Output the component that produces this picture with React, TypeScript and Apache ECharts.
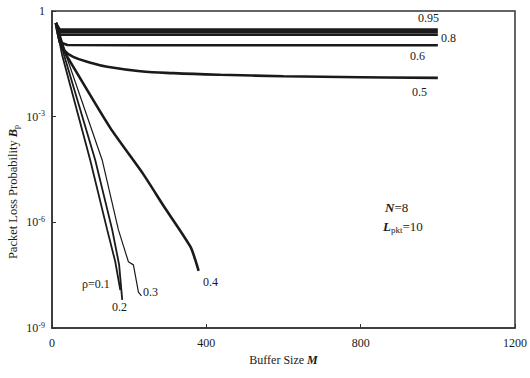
import React, { useEffect, useRef } from "react";
import * as echarts from "echarts";

// Buffer size M (x) and packet loss probability B_p (y) for each load rho
const m095 = [10, 20, 200, 400, 600, 800, 1000];
const b095 = [0.457, 0.295, 0.295, 0.295, 0.295, 0.295, 0.295];
const m090 = [10, 20, 200, 400, 600, 800, 1000];
const b090 = [0.457, 0.25, 0.25, 0.25, 0.25, 0.25, 0.25];
const m080 = [10, 20, 200, 400, 600, 800, 1000];
const b080 = [0.457, 0.212, 0.212, 0.212, 0.212, 0.212, 0.212];
const m060 = [10, 20, 40, 200, 400, 600, 800, 1000];
const b060 = [0.457, 0.13, 0.108, 0.107, 0.107, 0.107, 0.107, 0.107];
const m050 = [10, 20, 30, 55, 100, 143, 229, 315, 437, 600, 800, 1000];
const b050 = [0.457, 0.141, 0.079, 0.05, 0.034, 0.026, 0.0195, 0.0172, 0.0155, 0.0141, 0.0132, 0.0126];
const m040 = [10, 34, 44, 151, 237, 289, 359, 380];
const b040 = [0.457, 0.0646, 0.0417, 4.8e-4, 2.3e-5, 2.95e-6, 2.0e-7, 4.2e-8];
const m030 = [10, 36, 130, 172, 198, 211, 224, 232];
const b030 = [0.457, 0.0575, 5.9e-5, 6.2e-7, 7.6e-8, 6.2e-8, 1.05e-8, 8.1e-9];
const m020 = [10, 31, 112, 156, 174, 182];
const b020 = [0.457, 0.0575, 5.9e-5, 6.2e-7, 6.2e-8, 6.3e-9];
const m010 = [10, 26, 99, 143, 164, 177];
const b010 = [0.457, 0.0575, 5.9e-5, 6.2e-7, 7.6e-8, 1.2e-8];

const xTicks = [0, 400, 800, 1200];
const yTickExponents = [0, -3, -6, -9];

const FONT = "'Liberation Serif', 'Times New Roman', serif";
const INK = "#1a1a1a";

const seriesDefs = [
  { name: "0.95", m: m095, b: b095, w: 2.6, smooth: false },
  { name: "0.9", m: m090, b: b090, w: 2.6, smooth: false },
  { name: "0.8", m: m080, b: b080, w: 2.6, smooth: false },
  { name: "0.6", m: m060, b: b060, w: 2.6, smooth: false },
  { name: "0.5", m: m050, b: b050, w: 2.6, smooth: 0.4 },
  { name: "0.4", m: m040, b: b040, w: 2.6, smooth: 0.2 },
  { name: "0.3", m: m030, b: b030, w: 1.2, smooth: false },
  { name: "0.2", m: m020, b: b020, w: 1.8, smooth: false },
  { name: "0.1", m: m010, b: b010, w: 1.8, smooth: false },
];

function label(text: string, x: number, y: number, align = "left") {
  return {
    type: "text",
    x,
    y,
    style: { text, font: `12px ${FONT}`, fill: INK, align, verticalAlign: "middle" },
  };
}

export default function App() {
  const ref = useRef<HTMLDivElement>(null);
  useEffect(() => {
    if (!ref.current) return;
    const chart = echarts.init(ref.current, undefined, { renderer: "svg" });
    chart.setOption({
      animation: false,
      backgroundColor: "#ffffff",
      grid: {
        left: 52,
        right: 15,
        top: 11,
        bottom: 50,
        show: true,
        borderColor: "#333",
        borderWidth: 1.5,
        backgroundColor: "transparent",
      },
      xAxis: {
        type: "value",
        min: xTicks[0],
        max: xTicks[xTicks.length - 1],
        interval: 400,
        name: "{n|Buffer Size }{bi|M}",
        nameLocation: "middle",
        nameGap: 24,
        nameTextStyle: {
          rich: {
            n: { fontFamily: FONT, fontSize: 12, color: INK },
            bi: { fontFamily: FONT, fontSize: 12, color: INK, fontWeight: "bold", fontStyle: "italic" },
          },
        },
        axisLine: { show: true, lineStyle: { color: "#333", width: 1.5 } },
        axisTick: { show: true, inside: true, length: 4, lineStyle: { color: "#333" } },
        axisLabel: {
          fontFamily: FONT,
          fontSize: 12,
          color: INK,
          margin: 9,
          formatter: (v: number) => String(Math.round(v)),
        },
        splitLine: { show: false },
      },
      yAxis: {
        type: "log",
        logBase: 10,
        min: Math.pow(10, yTickExponents[yTickExponents.length - 1]),
        max: Math.pow(10, yTickExponents[0]),
        interval: 3,
        axisLine: { show: true, lineStyle: { color: "#333", width: 1.5 } },
        axisTick: { show: true, inside: true, length: 4, lineStyle: { color: "#333" } },
        axisLabel: {
          margin: 7,
          formatter: (v: number) => {
            const e = Math.round(Math.log10(v));
            if (e === 0) return "{b|1}";
            return `{b|10}{s|${e}}`;
          },
          rich: {
            b: { fontFamily: FONT, fontSize: 12, color: INK, lineHeight: 14 },
            s: { fontFamily: FONT, fontSize: 8, color: INK, verticalAlign: "top", lineHeight: 14, padding: [0, 0, 6, 0] },
          },
        },
        splitLine: { show: false },
        minorTick: { show: false },
      },
      series: seriesDefs.map((s) => ({
        name: s.name,
        type: "line",
        data: s.m.map((m, i) => [m, s.b[i]]),
        showSymbol: false,
        symbol: "none",
        smooth: s.smooth,
        lineStyle: { color: INK, width: s.w },
        z: 3,
      })),
      graphic: [
        {
          type: "text",
          x: 13,
          y: 192,
          rotation: Math.PI / 2,
          style: {
            text: "{n|Packet Loss Probability }{bi|B}{sub|p}",
            align: "center",
            verticalAlign: "middle",
            rich: {
              n: { fontFamily: FONT, fontSize: 12.5, fill: INK },
              bi: { fontFamily: FONT, fontSize: 12.5, fill: INK, fontWeight: "bold", fontStyle: "italic" },
              sub: { fontFamily: FONT, fontSize: 8, fill: INK, padding: [6, 0, 0, 0] },
            },
          },
        },
        label("0.95", 418, 18),
        label("0.8", 441, 38),
        label("0.6", 410, 56),
        label("0.5", 412, 92),
        label("0.4", 203, 282),
        label("0.3", 143, 292),
        label("0.2", 112, 307),
        label("\u03c1=0.1", 82, 284),
        {
          type: "text",
          x: 385,
          y: 207,
          style: {
            text: "{bi|N}{n|=8}",
            align: "left",
            verticalAlign: "middle",
            rich: {
              n: { fontFamily: FONT, fontSize: 13, fill: INK },
              bi: { fontFamily: FONT, fontSize: 13, fill: INK, fontWeight: "bold", fontStyle: "italic" },
            },
          },
        },
        {
          type: "text",
          x: 383,
          y: 226,
          style: {
            text: "{bi|L}{sub|pkt}{n|=10}",
            align: "left",
            verticalAlign: "middle",
            rich: {
              n: { fontFamily: FONT, fontSize: 13, fill: INK },
              bi: { fontFamily: FONT, fontSize: 13, fill: INK, fontWeight: "bold", fontStyle: "italic" },
              sub: { fontFamily: FONT, fontSize: 9, fill: INK, padding: [7, 0, 0, 0] },
            },
          },
        },
      ],
    });
    return () => chart.dispose();
  }, []);
  return (
    <div
      ref={ref}
      style={{ position: "fixed", left: 0, top: 0, width: 530, height: 378, background: "#fff" }}
    />
  );
}
